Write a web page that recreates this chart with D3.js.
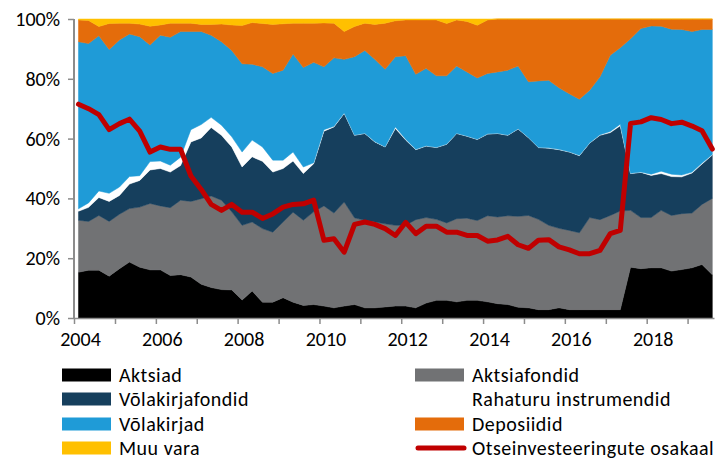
<!DOCTYPE html>
<html>
<head>
<meta charset="utf-8">
<script src="https://cdn.jsdelivr.net/npm/d3@7"></script>
<style>
	body { margin: 0; background: #fff; }
	text { font-family: Carlito, Calibri, Lato, sans-serif; fill: #000; }
</style>
</head>
<body>
<script>

// quarters 2004Q1 .. 2019Q3
var quarters = [
	"2004Q1","2004Q2","2004Q3","2004Q4","2005Q1","2005Q2","2005Q3","2005Q4",
	"2006Q1","2006Q2","2006Q3","2006Q4","2007Q1","2007Q2","2007Q3","2007Q4",
	"2008Q1","2008Q2","2008Q3","2008Q4","2009Q1","2009Q2","2009Q3","2009Q4",
	"2010Q1","2010Q2","2010Q3","2010Q4","2011Q1","2011Q2","2011Q3","2011Q4",
	"2012Q1","2012Q2","2012Q3","2012Q4","2013Q1","2013Q2","2013Q3","2013Q4",
	"2014Q1","2014Q2","2014Q3","2014Q4","2015Q1","2015Q2","2015Q3","2015Q4",
	"2016Q1","2016Q2","2016Q3","2016Q4","2017Q1","2017Q2","2017Q3","2017Q4",
	"2018Q1","2018Q2","2018Q3","2018Q4","2019Q1","2019Q2","2019Q3"
];

// shares, %
var aktsiad = [15.3,16.0,16.0,14.0,16.5,18.7,17.0,16.1,16.1,14.2,14.5,13.7,11.3,10.2,9.5,9.4,
	6.0,9.0,5.3,5.3,6.8,5.3,4.2,4.5,4.0,3.4,4.0,4.5,3.4,3.4,3.7,4.0,
	4.0,3.4,5.0,5.9,5.9,5.4,5.9,5.9,5.4,4.8,4.5,3.6,3.4,2.8,2.8,3.4,
	2.8,2.8,2.8,2.8,2.8,2.8,17.0,16.5,16.8,16.8,15.7,16.2,16.8,17.9,14.5];
var aktsiafondid = [17.4,16.3,18.3,18.3,18.2,17.9,20.1,22.2,21.4,22.7,24.9,25.3,28.6,30.6,29.9,26.1,
	25.0,23.1,24.6,23.4,25.3,30.1,28.5,31.0,33.5,31.7,34.8,29.0,29.3,28.7,27.8,27.0,
	27.0,29.5,28.6,27.1,25.9,27.8,27.5,26.7,28.8,29.0,29.7,30.4,30.9,30.2,28.2,26.6,
	26.5,25.7,30.8,30.1,31.5,33.0,19.0,17.1,16.8,19.2,18.6,18.7,18.3,20.1,25.5];
var volakirjafondid = [3.0,4.7,6.0,6.7,6.3,8.2,8.9,11.2,12.5,11.9,11.6,19.9,20.3,22.9,21.7,21.7,
	19.5,21.8,22.5,20.1,17.9,17.1,15.6,16.1,25.0,28.8,29.6,27.6,29.0,26.8,25.7,32.4,
	28.5,23.4,23.9,24.0,26.3,28.5,27.4,27.1,27.3,27.9,26.9,29.2,26.0,24.0,25.8,26.3,
	26.2,25.8,24.9,28.2,27.7,28.5,12.3,15.1,14.1,12.3,13.0,12.3,13.4,13.5,14.5];
var rahaturu = [0.8,1.5,2.2,2.7,2.8,2.5,1.6,2.8,2.5,2.3,2.8,4.1,4.5,3.4,3.4,3.4,
	5.0,5.6,4.8,4.0,2.8,3.0,2.2,0.3,0.5,0.2,0.2,0.1,0.1,0.1,0.1,0.5,
	0.3,0.1,0.1,0.1,0.1,0.1,0.1,0.1,0.1,0.1,0.1,0.1,0.1,0.1,0.1,0.1,
	0.1,0.1,0.1,0.2,0.4,0.5,0.1,0.1,0.4,0.8,0.8,0.6,0.3,0.3,0.2];
var volakirjad = [55.9,53.3,51.9,48.1,49.2,47.7,46.5,39.0,42.1,42.8,42.0,32.8,31.1,27.5,27.9,28.9,
	29.5,25.4,26.8,29.0,30.1,32.8,33.3,33.6,21.0,22.9,17.9,26.2,27.7,27.5,25.9,23.5,
	27.9,25.1,25.9,23.9,22.8,22.5,21.4,20.5,20.2,20.5,21.7,21.0,18.6,22.2,22.6,20.6,
	19.4,18.8,17.6,19.4,25.5,25.6,45.0,48.0,49.6,48.5,48.5,48.7,47.0,44.7,41.8];
var deposiidid = [7.3,7.7,3.1,8.7,5.6,3.6,4.2,6.3,3.4,4.7,2.8,2.8,2.4,3.6,5.9,8.5,
	12.8,13.9,14.5,16.4,15.5,10.3,14.8,13.1,14.7,11.6,9.3,10.1,9.1,11.7,15.4,12.0,
	12.0,18.2,16.2,18.7,17.5,15.4,16.9,17.6,17.9,17.7,17.1,15.7,21.0,20.7,20.5,23.0,
	25.0,26.8,23.8,19.3,12.1,9.6,6.6,3.2,2.3,2.4,3.4,3.5,4.2,3.5,3.5];
var muuVara = [0.3,0.5,2.5,1.5,1.4,1.4,1.7,2.4,2.0,1.4,1.4,1.4,1.8,1.8,1.7,2.0,
	2.2,1.2,1.5,1.8,1.6,1.4,1.4,1.4,1.3,1.4,4.2,2.5,1.4,1.8,1.4,0.6,
	0.3,0.3,0.3,0.3,1.5,0.3,0.8,2.1,0.3,0,0,0,0,0,0,0,
	0,0,0,0,0,0,0,0,0,0,0,0,0,0,0];
// Otseinvesteeringute osakaal, %
var otseinvesteeringud = [71.5,70.0,68.0,63.0,65.0,66.5,62.5,55.5,57.2,56.4,56.4,47.5,43.0,38.0,36.0,38.0,
	35.4,35.4,33.3,34.8,37.1,38.0,38.2,39.4,26.0,26.5,22.0,31.3,32.1,31.3,29.9,27.6,
	32.0,28.2,30.7,30.7,28.7,28.7,27.6,27.6,25.7,26.1,27.3,24.5,23.3,26.0,26.2,23.8,
	22.8,21.5,21.5,22.6,28.2,29.3,65.1,65.6,67.0,66.4,65.0,65.5,64.2,62.6,56.5];

var yTicks = [0, 20, 40, 60, 80, 100];
var yearLabels = [2004, 2006, 2008, 2010, 2012, 2014, 2016, 2018];

var series = [
	{key: "Aktsiad", values: aktsiad, colour: "#000000"},
	{key: "Aktsiafondid", values: aktsiafondid, colour: "#717274"},
	{key: "Võlakirjafondid", values: volakirjafondid, colour: "#163f5d"},
	{key: "Rahaturu instrumendid", values: rahaturu, colour: "#ffffff"},
	{key: "Võlakirjad", values: volakirjad, colour: "#1f9bd7"},
	{key: "Deposiidid", values: deposiidid, colour: "#e46c0b"},
	{key: "Muu vara", values: muuVara, colour: "#ffc000"}
];

var svgDims = {
	width: 715,
	height: 459,
	plot: {left: 74, right: 714, top: 19, bottom: 318}
};

var svg = d3.select("body").append("svg")
	.attr("width", svgDims.width)
	.attr("height", svgDims.height);

// quarter -> a date inside the quarter
var parseQuarter = function(s) {
	var year = +s.slice(0, 4), q = +s.slice(5);
	return new Date(year, (q - 1) * 3 + 1, 10);
};

var table = quarters.map(function(q, i) {
	var row = {date: parseQuarter(q), line: otseinvesteeringud[i]};
	series.forEach(function(s) { row[s.key] = s.values[i]; });
	return row;
});

var x = d3.scaleTime()
	.domain([new Date(2004, 0, 1), new Date(2019, 7, 25)])
	.range([svgDims.plot.left, svgDims.plot.right]);

var y = d3.scaleLinear()
	.domain([0, 100])
	.range([svgDims.plot.bottom, svgDims.plot.top]);

var stack = d3.stack().keys(series.map(function(s) { return s.key; }));
var stacked = stack(table);

var area = d3.area()
	.x(function(d) { return x(d.data.date); })
	.y0(function(d) { return y(d[0]); })
	.y1(function(d) { return y(d[1]); });

svg.append("g").selectAll("path")
	.data(stacked)
	.enter().append("path")
	.attr("d", area)
	.attr("fill", function(d, i) { return series[i].colour; })
	.attr("stroke", function(d, i) { return series[i].colour; })
	.attr("stroke-width", 0.5);

// red line
var line = d3.line()
	.x(function(d) { return x(d.date); })
	.y(function(d) { return y(d.line); });

svg.append("path")
	.datum(table)
	.attr("d", line)
	.attr("fill", "none")
	.attr("stroke", "#c00000")
	.attr("stroke-width", 5)
	.attr("stroke-linejoin", "round")
	.attr("stroke-linecap", "round");

// axes
var axisColour = "#8c8c8c";

var yAxis = svg.append("g")
	.attr("transform", "translate(" + svgDims.plot.left + ",0)")
	.call(d3.axisLeft(y).tickValues(yTicks).tickSize(6).tickPadding(8)
		.tickFormat(function(d) { return d + "%"; }));
yAxis.select(".domain").attr("stroke", axisColour).attr("stroke-width", 2)
	.attr("d", "M0," + svgDims.plot.bottom + "V" + svgDims.plot.top);
yAxis.selectAll(".tick line").attr("stroke", axisColour).attr("stroke-width", 1.5);
yAxis.selectAll("text").style("font-size", "20px").attr("fill", "#000");

var years = d3.range(2004, 2020).map(function(yr) { return new Date(yr, 0, 1); });
var xAxis = svg.append("g")
	.attr("transform", "translate(0," + svgDims.plot.bottom + ")")
	.call(d3.axisBottom(x).tickValues(years).tickSize(6).tickSizeOuter(0)
		.tickFormat(function(d) {
			return yearLabels.indexOf(d.getFullYear()) >= 0 ? d.getFullYear() : "";
		}));
xAxis.select(".domain").attr("stroke", axisColour).attr("stroke-width", 1.5);
xAxis.selectAll(".tick line").attr("stroke", axisColour).attr("stroke-width", 1.5);
xAxis.selectAll("text").style("font-size", "20px").attr("fill", "#000")
	.attr("dx", 6).attr("dy", "0.95em");

// legend
var legendItems = series.map(function(s) { return {label: s.key, colour: s.colour, type: "rect"}; });
legendItems.push({label: "Otseinvesteeringute osakaal", colour: "#c00000", type: "line"});

var legendCols = [62, 415];
var legendRows = [375, 399, 424, 448];

var legend = svg.append("g").selectAll("g")
	.data(legendItems)
	.enter().append("g")
	.attr("transform", function(d, i) {
		return "translate(" + legendCols[i % 2] + "," + legendRows[Math.floor(i / 2)] + ")";
	});

legend.filter(function(d) { return d.type == "rect"; })
	.append("rect")
	.attr("x", 0).attr("y", -6.5)
	.attr("width", 49).attr("height", 13)
	.attr("fill", function(d) { return d.colour; });

legend.filter(function(d) { return d.type == "line"; })
	.append("line")
	.attr("x1", 3).attr("x2", 49).attr("y1", 0).attr("y2", 0)
	.attr("stroke", function(d) { return d.colour; })
	.attr("stroke-width", 5)
	.attr("stroke-linecap", "round");

legend.append("text")
	.attr("x", 57)
	.attr("dy", "0.35em")
	.style("font-size", "20px")
	.style("letter-spacing", "0.5px")
	.text(function(d) { return d.label; });

</script>
</body>
</html>
